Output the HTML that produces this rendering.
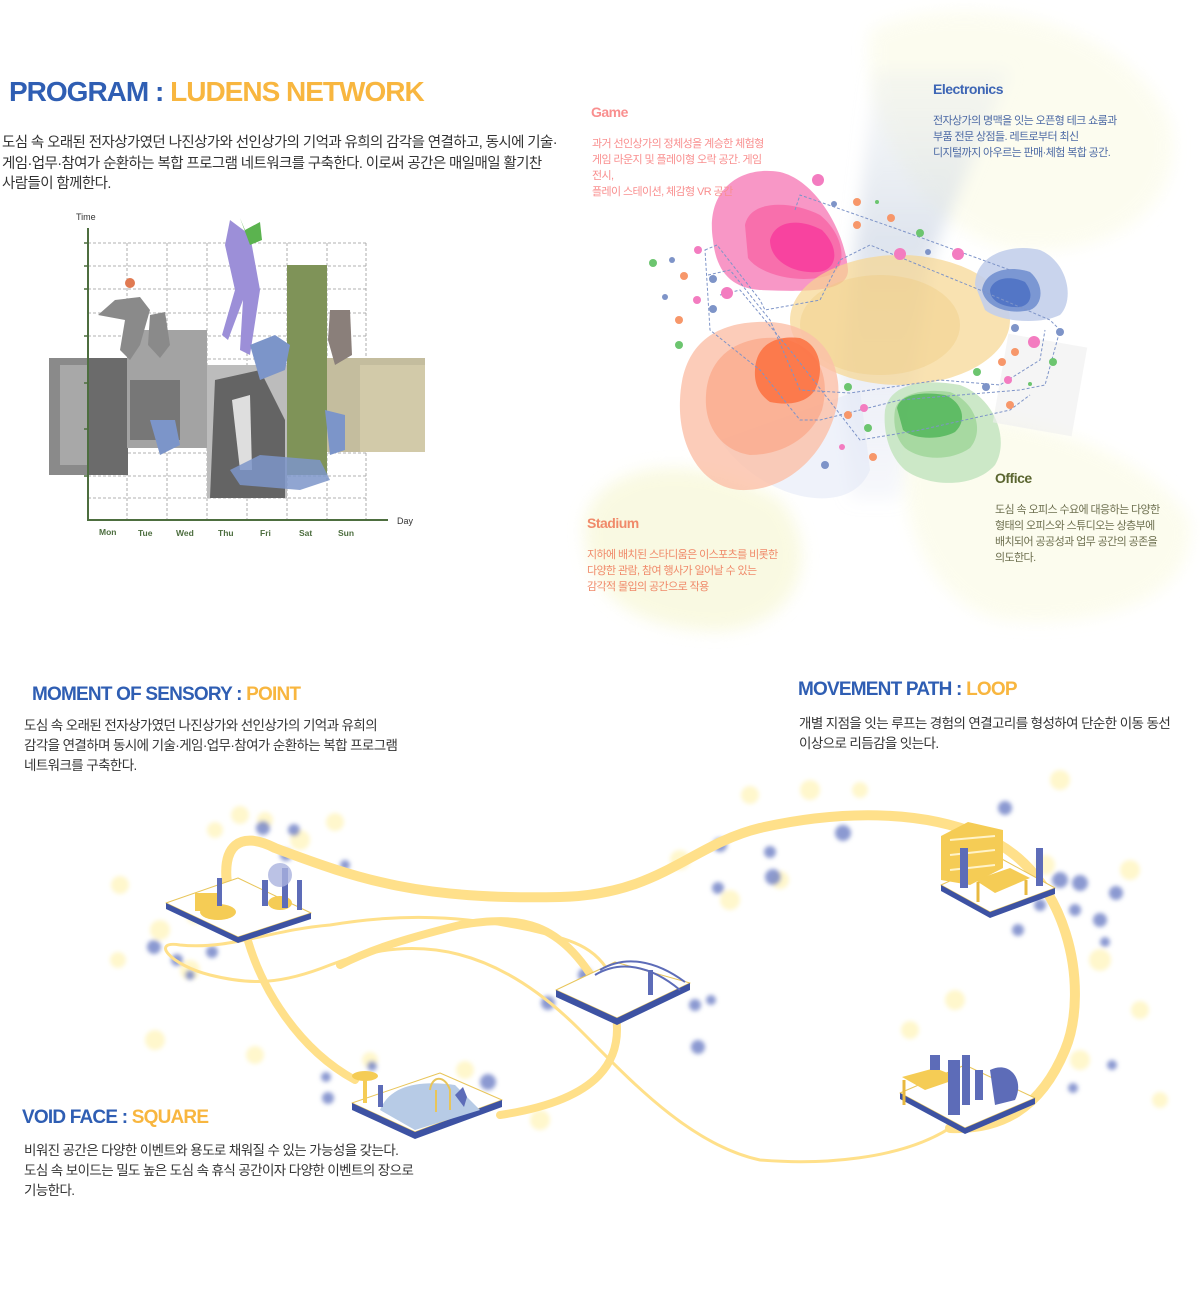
<!DOCTYPE html>
<html><head><meta charset="utf-8"><style>
body{margin:0;width:1200px;height:1290px;background:#fff;position:relative;overflow:hidden;font-family:"Liberation Sans","Noto Sans CJK KR",sans-serif}
.t{position:absolute;white-space:nowrap}
.h{font-weight:bold;letter-spacing:-0.5px}
.b{color:#2f5eb3}.y{color:#f8b63f}
.k{font-size:13.5px;line-height:20px;color:#333;letter-spacing:-0.6px}
svg{position:absolute;left:0;top:0}
</style></head><body>
<svg width="1200" height="1290" viewBox="0 0 1200 1290">
<defs>
<filter id="bl" x="-20%" y="-20%" width="140%" height="140%"><feGaussianBlur stdDeviation="2"/></filter>
<filter id="bl6" x="-30%" y="-30%" width="160%" height="160%"><feGaussianBlur stdDeviation="8"/></filter>
<linearGradient id="beam" x1="0" y1="0" x2="0" y2="1"><stop offset="0" stop-color="#e6eaee" stop-opacity=".3"/><stop offset=".4" stop-color="#c9d3e3" stop-opacity=".6"/><stop offset="1" stop-color="#d5dcef" stop-opacity=".2"/></linearGradient>
</defs>
<g filter="url(#bl6)" opacity=".6">
<path d="M870 30 C950 -10 1120 10 1170 120 C1190 200 1120 260 1010 250 C920 230 860 120 870 30Z" fill="#fbfbe6"/>
<path d="M585 520 C600 460 700 450 780 500 C830 560 790 640 700 630 C630 625 580 590 585 520Z" fill="#f6f6cf"/>
<path d="M910 420 C1000 400 1150 450 1190 520 C1200 600 1100 630 1000 620 C920 600 890 500 910 420Z" fill="#fbfbe3"/>
</g>
<path d="M875 70 L1010 70 L930 260 L900 500 L850 500 L840 380 Z" fill="url(#beam)" filter="url(#bl6)"/>
<path d="M720 440 C760 500 850 520 870 470 L860 390 Z" fill="#dfe6f5" opacity=".5"/>
<path d="M713 240 C705 190 740 165 780 172 C815 180 845 230 848 270 C848 292 810 292 760 290 C730 288 716 270 713 240Z" fill="#f78cc0" opacity=".9"/>
<path d="M745 225 C750 200 790 200 820 215 C845 235 848 268 830 275 C800 285 760 275 748 258Z" fill="#f76aa8" opacity=".9"/>
<path d="M770 240 C775 220 800 218 822 230 C840 248 838 270 818 272 C795 274 770 262 770 240Z" fill="#f83c9c" opacity=".85"/>
<ellipse cx="900" cy="320" rx="110" ry="65" fill="#f7d690" opacity=".7"/>
<ellipse cx="880" cy="325" rx="80" ry="50" fill="#eec97a" opacity=".35"/>
<path d="M680 400 C682 340 720 320 770 322 C820 325 842 360 838 400 C830 450 790 492 740 490 C700 487 678 445 680 400Z" fill="#fbbfa8" opacity=".8"/>
<path d="M706 395 C708 355 740 335 780 338 C815 345 832 372 822 410 C810 440 780 455 750 455 C720 450 704 425 706 395Z" fill="#fba688" opacity=".7"/>
<path d="M755 370 C756 345 775 335 800 338 C820 345 825 370 815 390 C805 405 785 405 770 402 C760 395 754 385 755 370Z" fill="#fb7040" opacity=".85"/>
<path d="M975 285 C975 255 1010 243 1040 250 C1068 262 1075 300 1060 315 C1040 325 1000 322 985 310Z" fill="#c3cfeb" opacity=".9"/>
<path d="M982 290 C985 270 1010 265 1030 272 C1045 285 1043 305 1030 310 C1010 315 985 308 982 290Z" fill="#7290cf" opacity=".9"/>
<path d="M990 290 C993 278 1010 275 1025 282 C1035 295 1030 305 1020 307 C1005 308 990 302 990 290Z" fill="#4f72c4" opacity=".9"/>
<path d="M885 410 C890 385 920 378 960 385 C995 398 1010 440 995 465 C975 488 930 488 905 470 C888 455 883 430 885 410Z" fill="#c7e5c2" opacity=".9"/>
<path d="M895 410 C898 395 920 388 950 392 C975 402 985 430 970 448 C950 462 920 460 905 448 C895 438 893 422 895 410Z" fill="#9ed497" opacity=".8"/>
<path d="M897 408 C900 395 920 391 945 395 C962 402 968 420 955 432 C940 440 915 440 903 430Z" fill="#52b65a" opacity=".85"/>
<rect x="1000" y="340" width="80" height="90" fill="#eeeeee" opacity=".6" transform="rotate(10 1040 385)"/>
<g fill="none" stroke="#7e94c8" stroke-width="1" stroke-dasharray="3,2">
<path d="M705 250 L717 245 L760 300 L765 310 L820 300 L840 260 L870 245 L980 290 L1050 320 L1060 330 L1045 385 L1020 390 L900 400 L820 420 L800 420 L760 370 L735 350 L710 330 Z"/>
<path d="M708 275 L730 270 L770 320 L800 390 L850 393 L940 380 L1000 385 L1040 360 L1045 330"/>
<path d="M720 295 L740 290 L790 350 L860 440 L920 430 L1010 410 L1030 395"/>
<path d="M795 210 L800 195 L900 230 L1010 270"/>
</g>
<g>
<circle cx="818" cy="180" r="6" fill="#f37cc0"/><circle cx="857" cy="202" r="4" fill="#f7976a"/><circle cx="857" cy="225" r="4" fill="#f7976a"/><circle cx="834" cy="204" r="3" fill="#7e94c8"/><circle cx="877" cy="202" r="2" fill="#6cc56f"/>
<circle cx="891" cy="218" r="4" fill="#f7976a"/><circle cx="920" cy="233" r="4" fill="#6cc56f"/><circle cx="900" cy="254" r="6" fill="#f37cc0"/><circle cx="928" cy="252" r="3" fill="#7e94c8"/><circle cx="958" cy="254" r="6" fill="#f37cc0"/>
<circle cx="653" cy="263" r="4" fill="#6cc56f"/><circle cx="672" cy="260" r="3" fill="#7e94c8"/><circle cx="684" cy="276" r="4" fill="#f7976a"/><circle cx="698" cy="250" r="4" fill="#f37cc0"/><circle cx="713" cy="279" r="4" fill="#7e94c8"/>
<circle cx="727" cy="293" r="6" fill="#f37cc0"/><circle cx="665" cy="297" r="3" fill="#7e94c8"/><circle cx="679" cy="320" r="4" fill="#f7976a"/><circle cx="679" cy="345" r="4" fill="#6cc56f"/><circle cx="697" cy="300" r="4" fill="#f37cc0"/><circle cx="713" cy="309" r="4" fill="#7e94c8"/>
<circle cx="1015" cy="328" r="4" fill="#7e94c8"/><circle cx="1060" cy="332" r="4" fill="#7e94c8"/><circle cx="1034" cy="342" r="6" fill="#f37cc0"/><circle cx="1015" cy="352" r="4" fill="#f7976a"/><circle cx="1002" cy="362" r="4" fill="#f7976a"/>
<circle cx="977" cy="372" r="4" fill="#6cc56f"/><circle cx="986" cy="387" r="4" fill="#7e94c8"/><circle cx="1008" cy="380" r="4" fill="#f37cc0"/><circle cx="1053" cy="362" r="4" fill="#6cc56f"/><circle cx="1030" cy="384" r="2" fill="#6cc56f"/><circle cx="1010" cy="405" r="4" fill="#f7976a"/>
<circle cx="848" cy="387" r="4" fill="#6cc56f"/><circle cx="864" cy="408" r="4" fill="#f37cc0"/><circle cx="848" cy="415" r="4" fill="#f7976a"/><circle cx="868" cy="428" r="4" fill="#6cc56f"/><circle cx="842" cy="447" r="3" fill="#f37cc0"/><circle cx="873" cy="457" r="4" fill="#f7976a"/><circle cx="825" cy="465" r="4" fill="#7e94c8"/>
</g>

<g stroke="#999" stroke-width=".8" stroke-dasharray="3,2" fill="none">
<path d="M88 243H366M88 266H366M88 289H366M88 313H366M88 336H366M88 359H366M88 383H366M88 406H366M88 429H366M88 453H366M88 476H366M88 498H366"/>
<path d="M127 243V520M167 243V520M207 243V520M247 243V520M287 243V520M327 243V520M366 243V520"/>
</g>
<rect x="49" y="358" width="78" height="117" fill="#8a8a8a"/>
<rect x="60" y="365" width="30" height="100" fill="#bdbdbd" opacity=".6"/>
<rect x="88" y="358" width="40" height="117" fill="#6b6b6b"/>
<rect x="127" y="330" width="80" height="118" fill="#a3a3a3"/>
<rect x="130" y="380" width="50" height="60" fill="#5a5a5a" opacity=".6"/>
<rect x="207" y="365" width="80" height="133" fill="#bcbcbc"/>
<path d="M215 380 L260 370 L285 420 L285 498 L210 498Z" fill="#4d4d4d" opacity=".8"/>
<path d="M232 400 L250 395 L252 470 L240 470Z" fill="#dedede"/>
<rect x="287" y="265" width="40" height="210" fill="#6e9a57"/>
<rect x="287" y="265" width="40" height="210" fill="#c57a60" opacity=".2"/>
<rect x="327" y="358" width="98" height="94" fill="#c4bd9e"/>
<rect x="360" y="365" width="65" height="87" fill="#d8d0ae" opacity=".7"/>
<path d="M230 220 L250 235 L260 290 L250 355 L240 350 L243 300 L228 340 L222 335 L235 290 L225 245Z" fill="#9c8fd8"/>
<path d="M240 218 L245 230 L260 222 L262 240 L250 245Z" fill="#5bb34f"/>
<circle cx="130" cy="283" r="5" fill="#e07a52"/>
<path d="M115 300 L140 297 L150 310 L140 345 L130 360 L120 350 L125 320 L98 315Z" fill="#8a8a8a"/>
<path d="M150 315 L165 312 L170 345 L160 358 L148 345Z" fill="#8a8a8a"/>
<path d="M250 345 L275 335 L290 345 L285 370 L260 380Z" fill="#7c95c9"/>
<path d="M330 310 L350 310 L352 355 L335 365 L328 340Z" fill="#8a7f7a"/>
<path d="M230 470 L260 455 L320 460 L330 480 L300 490 L240 485Z" fill="#7c95c9" opacity=".85"/>
<path d="M150 420 L175 420 L180 445 L160 455Z" fill="#7c95c9"/>
<path d="M325 410 L345 415 L345 450 L330 455Z" fill="#7c95c9"/>
<path d="M88 228V520H388" fill="none" stroke="#4d6e3f" stroke-width="2"/>
<path d="M84 243h4M84 266h4M84 289h4M84 336h4M84 383h4M84 429h4M84 476h4" stroke="#4d6e3f" stroke-width="1.5"/>
<g font-size="8.5" font-weight="bold" fill="#4d6e3f" font-family="Liberation Sans,sans-serif">
<text x="99" y="535">Mon</text><text x="138" y="536">Tue</text><text x="176" y="536">Wed</text><text x="218" y="536">Thu</text><text x="260" y="536">Fri</text><text x="299" y="536">Sat</text><text x="338" y="536">Sun</text></g>
<text x="76" y="220" font-size="9" fill="#333" font-family="Liberation Sans,sans-serif">Time</text>
<text x="397" y="524" font-size="9" fill="#333" font-family="Liberation Sans,sans-serif">Day</text>

<g filter="url(#bl)">
<g fill="#fff6c4" opacity=".85">
<circle cx="240" cy="815" r="9"/><circle cx="265" cy="820" r="8"/><circle cx="335" cy="822" r="9"/><circle cx="215" cy="830" r="8"/><circle cx="300" cy="840" r="10"/><circle cx="160" cy="930" r="10"/><circle cx="190" cy="970" r="10"/><circle cx="120" cy="885" r="9"/><circle cx="118" cy="960" r="8"/><circle cx="155" cy="1040" r="10"/><circle cx="255" cy="1055" r="9"/><circle cx="600" cy="980" r="8"/><circle cx="750" cy="795" r="9"/><circle cx="810" cy="790" r="10"/><circle cx="860" cy="790" r="8"/><circle cx="1060" cy="780" r="10"/><circle cx="1130" cy="870" r="10"/><circle cx="1100" cy="960" r="11"/><circle cx="1140" cy="1010" r="9"/><circle cx="1080" cy="1060" r="10"/><circle cx="1160" cy="1100" r="8"/><circle cx="680" cy="860" r="10"/><circle cx="730" cy="900" r="10"/><circle cx="780" cy="880" r="9"/><circle cx="465" cy="1070" r="9"/><circle cx="370" cy="1060" r="8"/><circle cx="955" cy="1000" r="10"/><circle cx="910" cy="1030" r="9"/><circle cx="540" cy="1120" r="10"/><circle cx="195" cy="915" r="9"/><circle cx="1045" cy="865" r="10"/></g>
<g fill="#6f80c6" opacity=".8">
<circle cx="263" cy="828" r="7"/><circle cx="294" cy="830" r="6"/><circle cx="286" cy="855" r="6"/><circle cx="345" cy="865" r="5"/><circle cx="154" cy="947" r="7"/><circle cx="177" cy="960" r="6"/><circle cx="212" cy="952" r="6"/><circle cx="190" cy="975" r="5"/><circle cx="720" cy="845" r="7"/><circle cx="770" cy="852" r="6"/><circle cx="773" cy="877" r="8"/><circle cx="718" cy="888" r="6"/><circle cx="843" cy="833" r="8"/><circle cx="1005" cy="808" r="7"/><circle cx="1060" cy="880" r="8"/><circle cx="1080" cy="883" r="8"/><circle cx="1116" cy="893" r="7"/><circle cx="1040" cy="905" r="6"/><circle cx="1075" cy="910" r="6"/><circle cx="1100" cy="920" r="7"/><circle cx="1018" cy="930" r="6"/><circle cx="1105" cy="942" r="5"/><circle cx="548" cy="1003" r="7"/><circle cx="585" cy="975" r="7"/><circle cx="695" cy="1005" r="6"/><circle cx="698" cy="1047" r="7"/><circle cx="711" cy="1000" r="5"/><circle cx="488" cy="1082" r="8"/><circle cx="372" cy="1066" r="5"/><circle cx="328" cy="1098" r="6"/><circle cx="326" cy="1077" r="5"/><circle cx="1073" cy="1088" r="5"/><circle cx="1112" cy="1065" r="5"/></g></g>
<g fill="none" stroke="#ffe08a" stroke-linecap="round">
<path d="M228 890 C220 845 240 830 275 848 C360 880 420 900 560 897 C660 895 690 845 760 828 C840 810 920 810 980 835 C1070 870 1090 990 1065 1050 C1040 1110 1000 1130 950 1128" stroke-width="10"/>
<path d="M950 1128 C900 1160 820 1165 760 1160 C690 1145 630 1080 580 1030 C500 950 420 930 330 965 C280 985 250 985 210 975 C170 965 150 940 180 945 C230 950 270 930 330 925 C420 910 480 920 530 930 C570 940 600 945 615 985" stroke-width="3"/>
<path d="M600 990 C560 920 520 915 460 925 C400 940 370 950 340 965" stroke-width="8"/>
<path d="M615 1010 C625 1060 600 1100 500 1115" stroke-width="8"/>
<path d="M245 930 C260 990 300 1050 355 1080" stroke-width="8"/>
</g>
<g stroke-linejoin="round">
<path d="M166 903 L238 878 L311 913 L238 937Z" fill="#fff" stroke="#e8c55a" stroke-width="1"/>
<path d="M166 903 L238 937 L238 943 L166 909Z" fill="#3d52a3"/><path d="M238 937 L311 913 L311 919 L238 943Z" fill="#3d52a3"/>
<rect x="195" y="893" width="22" height="18" fill="#f5cc55"/><ellipse cx="218" cy="912" rx="18" ry="8" fill="#f5cc55"/><ellipse cx="280" cy="903" rx="12" ry="7" fill="#f5cc55"/>
<path d="M217 878 h5 v28 h-5z M262 880 h6 v26 h-6z M282 868 h6 v40 h-6z M297 880 h5 v30 h-5z" fill="#5d6cb8"/>
<circle cx="280" cy="875" r="12" fill="#aab3df" opacity=".8"/>
<path d="M556 990 L615 962 L690 983 L617 1018Z" fill="#fff" stroke="#e8c55a"/>
<path d="M556 990 L617 1018 L617 1025 L556 997Z" fill="#3d52a3"/><path d="M617 1018 L690 983 L690 990 L617 1025Z" fill="#3d52a3"/>
<path d="M595 975 C620 960 650 965 680 990" fill="none" stroke="#5d6cb8" stroke-width="2"/><path d="M600 970 C625 955 655 960 685 982" fill="none" stroke="#5d6cb8" stroke-width="2"/>
<path d="M648 970 h5 v25 h-5z" fill="#5d6cb8"/>
<path d="M352 1103 L440 1073 L502 1100 L415 1132Z" fill="#fff" stroke="#e8c55a"/>
<path d="M352 1103 L415 1132 L415 1139 L352 1110Z" fill="#3d52a3"/><path d="M415 1132 L502 1100 L502 1107 L415 1139Z" fill="#3d52a3"/>
<path d="M380 1110 C390 1085 420 1080 455 1085 L480 1110 L415 1130Z" fill="#b7cbe6"/>
<ellipse cx="365" cy="1076" rx="13" ry="5" fill="#f5cc55"/><path d="M363 1078 h4 v25 h-4z" fill="#f5cc55"/>
<path d="M430 1090 C432 1075 445 1075 450 1090 L450 1110 M436 1090 V1112" fill="none" stroke="#e8c55a" stroke-width="2"/>
<path d="M378 1085 h5 v22 h-5z M455 1095 l8 -8 l4 10 l-3 10z" fill="#5d6cb8"/>
<path d="M941 885 L1000 858 L1055 888 L990 912Z" fill="#fff" stroke="#e8c55a"/>
<path d="M941 885 L990 912 L990 918 L941 891Z" fill="#3d52a3"/><path d="M990 912 L1055 888 L1055 894 L990 918Z" fill="#3d52a3"/>
<path d="M941 836 L968 822 L1003 830 L1003 868 L970 885 L941 880Z" fill="#f5cc55"/>
<path d="M950 840 L995 836 M950 855 L995 850 M950 870 L995 865" stroke="#fff3c8" stroke-width="2"/>
<path d="M975 880 L1010 868 L1030 878 L995 893Z" fill="#f5cc55"/><path d="M978 882 v20 M1026 880 v15" stroke="#e8b940" stroke-width="3"/>
<path d="M960 848 h8 v40 h-8z M1036 848 h7 v38 h-7z" fill="#5d6cb8"/>
<path d="M900 1093 L965 1065 L1035 1098 L965 1128Z" fill="#fff" stroke="#e8c55a"/>
<path d="M900 1093 L965 1128 L965 1134 L900 1099Z" fill="#3d52a3"/><path d="M965 1128 L1035 1098 L1035 1104 L965 1134Z" fill="#3d52a3"/>
<path d="M902 1077 L935 1068 L960 1078 L925 1090Z" fill="#f5cc55"/><path d="M904 1080 v25 M957 1080 v20" stroke="#e8b940" stroke-width="3"/>
<path d="M930 1055 h10 v15 h-10z M948 1060 h12 v55 h-12z M962 1055 h8 v50 h-8z M975 1070 h8 v30 h-8z M990 1070 c20 -10 35 10 25 30 l-20 5z" fill="#5d6cb8"/>
</g>
</svg>

<div class="t h" style="left:9px;top:76px;font-size:28px;letter-spacing:-1px"><span class="b">PROGRAM</span> <span class="b">:</span> <span class="y">LUDENS NETWORK</span></div>
<div class="t k" style="left:2px;top:133px;font-size:14.5px;line-height:20.5px">도심 속 오래된 전자상가였던 나진상가와 선인상가의 기억과 유희의 감각을 연결하고, 동시에 기술·<br>게임·업무·참여가 순환하는 복합 프로그램 네트워크를 구축한다. 이로써 공간은 매일매일 활기찬<br>사람들이 함께한다.</div>

<div class="t h" style="left:591px;top:104px;font-size:14px;color:#f98f8f">Game</div>
<div class="t k" style="left:592px;top:136px;font-size:11px;line-height:16px;color:#f98f8f"> 과거 선인상가의 정체성을 계승한 체험형<br>게임 라운지 및 플레이형 오락 공간. 게임<br>전시,<br>플레이 스테이션, 체감형 VR 공간</div>
<div class="t h" style="left:933px;top:81px;font-size:14px;color:#3e66b5">Electronics</div>
<div class="t k" style="left:933px;top:113px;font-size:11px;line-height:16px;color:#4d6aa5"> 전자상가의 명맥을 잇는 오픈형 테크 쇼룸과<br>부품 전문 상점들. 레트로부터 최신<br>디지털까지 아우르는 판매·체험 복합 공간.</div>
<div class="t h" style="left:587px;top:515px;font-size:14px;color:#f08a6a">Stadium</div>
<div class="t k" style="left:587px;top:547px;font-size:11px;line-height:16px;color:#f08a6a"> 지하에 배치된 스타디움은 이스포츠를 비롯한<br>다양한 관람, 참여 행사가 일어날 수 있는<br>감각적 몰입의 공간으로 작용</div>
<div class="t h" style="left:995px;top:470px;font-size:14px;color:#5b6630">Office</div>
<div class="t k" style="left:995px;top:502px;font-size:11px;line-height:16px;color:#6e7050"> 도심 속 오피스 수요에 대응하는 다양한<br>형태의 오피스와 스튜디오는 상층부에<br>배치되어 공공성과 업무 공간의 공존을<br>의도한다.</div>

<div class="t h" style="left:32px;top:684px;font-size:19px;letter-spacing:-0.8px"><span class="b">MOMENT OF SENSORY</span> <span class="b">:</span> <span class="y">POINT</span></div>
<div class="t k" style="left:24px;top:716px"> 도심 속 오래된 전자상가였던 나진상가와 선인상가의 기억과 유희의<br>감각을 연결하며 동시에 기술·게임·업무·참여가 순환하는 복합 프로그램<br>네트워크를 구축한다.</div>
<div class="t h" style="left:798px;top:679px;font-size:19px;letter-spacing:-0.8px"><span class="b">MOVEMENT PATH</span> <span class="b">:</span> <span class="y">LOOP</span></div>
<div class="t k" style="left:799px;top:714px"> 개별 지점을 잇는 루프는 경험의 연결고리를 형성하여 단순한 이동 동선<br>이상으로 리듬감을 잇는다.</div>
<div class="t h" style="left:22px;top:1107px;font-size:19px;letter-spacing:-0.8px"><span class="b">VOID FACE</span> <span class="b">:</span> <span class="y">SQUARE</span></div>
<div class="t k" style="left:24px;top:1141px">비워진 공간은 다양한 이벤트와 용도로 채워질 수 있는 가능성을 갖는다.<br>도심 속 보이드는 밀도 높은 도심 속 휴식 공간이자 다양한 이벤트의 장으로<br>기능한다.</div>
</body></html>
